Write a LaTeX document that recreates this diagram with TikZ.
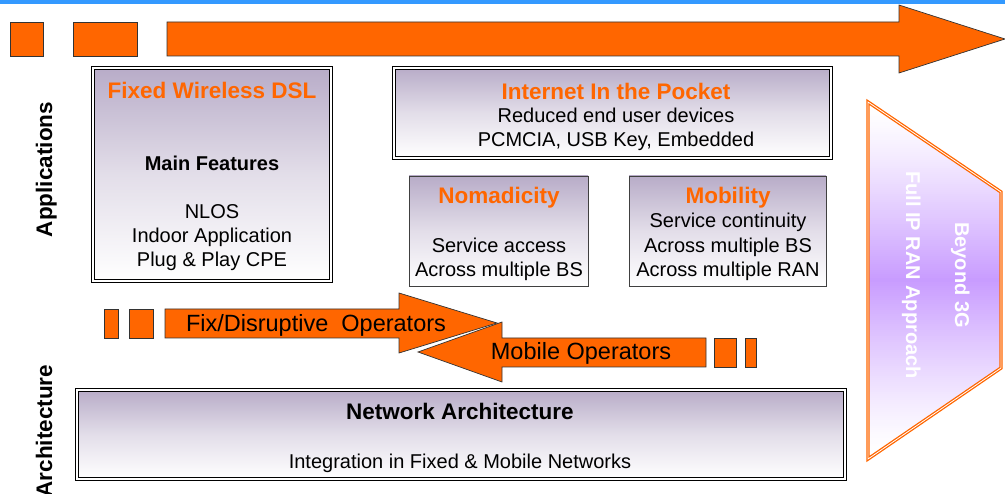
\documentclass[tikz,border=0pt]{standalone}
\usepackage{fontspec}
\setmainfont{Liberation Sans}
\usetikzlibrary{positioning}
\definecolor{wimaxorange}{RGB}{255,102,0}
\definecolor{topblue}{RGB}{51,153,255}
\definecolor{boxpurple}{RGB}{184,172,200}
\definecolor{lilac}{RGB}{200,155,255}
\tikzset{
    bar/.style={
    draw=black!80,fill=wimaxorange,line width=0.7pt
    },
    featbox/.style={
    rectangle,draw=black,line width=1.6pt,double=white,double distance=1.2pt,
    top color=boxpurple,bottom color=white,middle color=boxpurple!40,inner sep=0pt
    },
    subbox/.style={
    rectangle,draw=black!75,line width=0.8pt,
    top color=boxpurple,bottom color=white,middle color=boxpurple!40,inner sep=0pt
    },
  boxtitle/.style={anchor=base, inner sep=0pt, text=wimaxorange, font=\fontsize{22.5}{26}\selectfont\bfseries},
  boxhead/.style={anchor=base, inner sep=0pt, font=\fontsize{20}{24}\selectfont\bfseries},
  boxtext/.style={anchor=base, inner sep=0pt, font=\fontsize{20}{24}\selectfont},
  optext/.style={anchor=base, inner sep=0pt, font=\fontsize{23.5}{28}\selectfont},
  sidelabel/.style={anchor=base, inner sep=0pt, rotate=90, font=\fontsize{22.5}{26}\selectfont\bfseries},
  ranlabel/.style={anchor=base, inner sep=0pt, rotate=-90, text=white, font=\fontsize{20}{24}\selectfont\bfseries},
}
\begin{document}
\begin{tikzpicture}[x=1pt, y=-1pt]
   \useasboundingbox (0,0) rectangle (1005,494);
   \fill[topblue] (0,0) rectangle (1005,4.5);

   % top arrow
   \draw[bar] (10,22) rectangle (43,56);
   \draw[bar] (73,22) rectangle (137,56);
   \draw[bar] (167,22) -- (899,22) -- (899,5) -- (1005,39) -- (899,73) -- (899,56) -- (167,56) -- cycle;

   % beyond 3G trapezoid
   \begin{scope}
     \clip (868,102) -- (1001,192) -- (1001,368) -- (868,459) -- cycle;
     \foreach \yy in {102,104,...,458}{
       \pgfmathtruncatemacro\pct{100*max(0.001,1-abs(\yy+1-280)/175)^1.3}
       \fill[lilac!\pct!white] (866,\yy) rectangle (1003,\yy+2.3);
     }
   \end{scope}
   \draw[draw=wimaxorange, line width=1.3pt, double=white, double distance=0.8pt]
        (868,102) -- (1001,192) -- (1001,368) -- (868,459) -- cycle;
   \node[ranlabel] (fullip) at (906,275) {Full IP RAN Approach};
   \node[ranlabel] (beyond) at (955,275) {Beyond 3G};

   % side labels
   \node[sidelabel] (apps) at (52,169.5) {Applications};
   \node[sidelabel] (arch) at (52,431) {Architecture};

   % application boxes
   \node[featbox, minimum width=238pt, minimum height=213pt] (fwdsl)  at (212,174.5) {};
   \node[featbox, minimum width=437pt, minimum height=90pt]  (pocket) at (612.5,113) {};
   \node[subbox,  minimum width=179pt, minimum height=110pt] (nomad)  at (498.5,231) {};
   \node[subbox,  minimum width=197pt, minimum height=110pt] (mobil)  at (727.5,231) {};

   \node[boxtitle] (fwdsltitle) at (212,99)  {Fixed Wireless DSL};
   \node[boxhead]  (features)   at (212,171) {Main Features};
   \node[boxtext]  (nlos)       at (212,219) {NLOS};
   \node[boxtext]  (indoor)     at (212,243) {Indoor Application};
   \node[boxtext]  (plug)       at (212,267) {Plug \& Play CPE};

   \node[boxtitle] (pockettitle) at (616,100) {Internet In the Pocket};
   \node[boxtext]  (reduced)     at (616,123) {Reduced end user devices};
   \node[boxtext]  (pcmcia)      at (616,147) {PCMCIA, USB Key, Embedded};

   \node[boxtitle] (nomadtitle) at (499,204) {Nomadicity};
   \node[boxtext]  (access)     at (499,253) {Service access};
   \node[boxtext]  (nomadbs)    at (499,277) {Across multiple BS};

   \node[boxtitle] (mobiltitle) at (728,204) {Mobility};
   \node[boxtext]  (continuity) at (728,228) {Service continuity};
   \node[boxtext]  (mobilbs)    at (728,253) {Across multiple BS};
   \node[boxtext]  (mobilran)   at (728,277) {Across multiple RAN};

   % operator arrows
   \draw[bar] (104,309) rectangle (118,338);
   \draw[bar] (129,309) rectangle (153,338);
   \draw[bar] (165,309) -- (399,309) -- (399,293) -- (497,323) -- (399,353) -- (399,338) -- (165,338) -- cycle;
   \draw[bar] (706,338) -- (502,338) -- (502,322) -- (418,352) -- (502,382) -- (502,367) -- (706,367) -- cycle;
   \draw[bar] (714,338) rectangle (736,367);
   \draw[bar] (745,338) rectangle (756,367);
   \node[optext] (fixop) at (316,332) {Fix/Disruptive\ \ Operators};
   \node[optext] (mobop) at (581,360) {Mobile Operators};

   % network box
   \node[featbox, minimum width=768pt, minimum height=89pt] (netarch) at (461,434.5) {};
   \node[boxhead, font=\fontsize{22.5}{26}\selectfont\bfseries] (nettitle) at (460,420) {Network Architecture};
   \node[boxtext] (integration) at (460,468) {Integration in Fixed \& Mobile Networks};
\end{tikzpicture}
\end{document}
